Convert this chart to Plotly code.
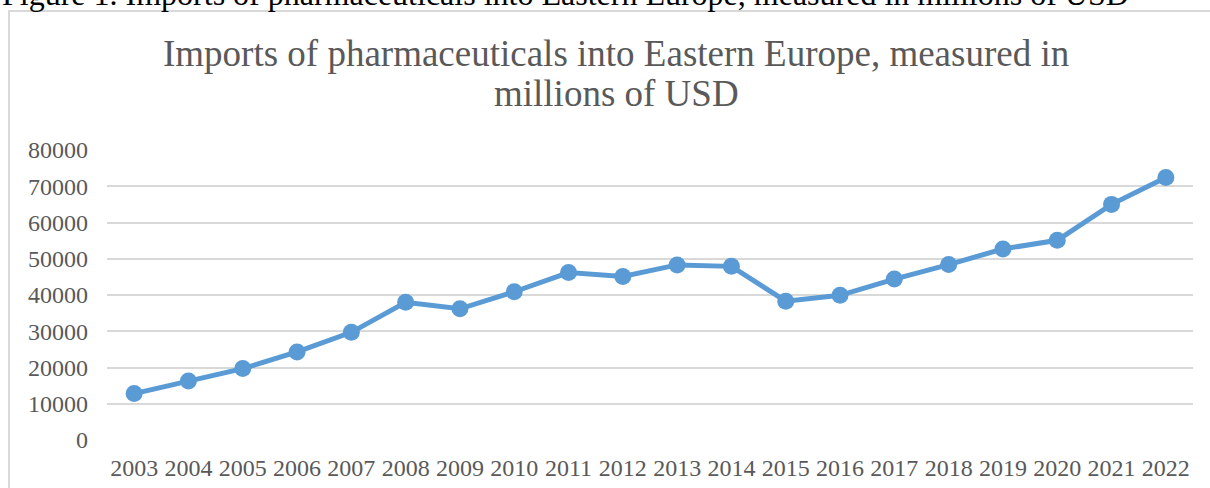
import plotly.graph_objects as go

# Annual pharmaceutical imports into Eastern Europe (millions of USD)
years = ["2003", "2004", "2005", "2006", "2007", "2008", "2009", "2010", "2011", "2012",
         "2013", "2014", "2015", "2016", "2017", "2018", "2019", "2020", "2021", "2022"]
imports_musd = [12800, 16300, 19700, 24300, 29700, 38000, 36200, 40900, 46200, 45100,
                48300, 47900, 38300, 39900, 44400, 48400, 52700, 55100, 65000, 72400]
y_ticks = [0, 10000, 20000, 30000, 40000, 50000, 60000, 70000, 80000]

caption = "Figure 1. Imports of pharmaceuticals into Eastern Europe, measured in millions of USD"
title_line1 = "Imports of pharmaceuticals into Eastern Europe, measured in"
title_line2 = "millions of USD"

SERIF = "Liberation Serif, Times New Roman, serif"
GREY_TEXT = "#595959"
GRID = "#d9d9d9"
BLUE = "#5b9bd5"

fig = go.Figure()
fig.add_trace(go.Scatter(
    x=years, y=imports_musd, mode="lines+markers",
    line=dict(color=BLUE, width=5),
    marker=dict(color=BLUE, size=17),
    hoverinfo="x+y", showlegend=False,
))

fig.update_layout(
    width=1210, height=488,
    margin=dict(l=107, r=17, t=150, b=48, autoexpand=False),
    paper_bgcolor="white", plot_bgcolor="white",
    font=dict(family=SERIF, color=GREY_TEXT),
    xaxis=dict(
        type="category", range=[-0.5, 19.5], automargin=False,
        showgrid=False, zeroline=False, showline=False,
        ticks="", tickfont=dict(size=24, family=SERIF, color=GREY_TEXT),
        ticklabelstandoff=11, fixedrange=True,
    ),
    yaxis=dict(
        range=[0, 80000], tickvals=y_ticks, ticktext=[str(v) for v in y_ticks],
        automargin=False,
        showgrid=True, gridcolor=GRID, gridwidth=1.5,
        zeroline=False, showline=False, ticks="",
        tickfont=dict(size=24, family=SERIF, color=GREY_TEXT),
        ticklabelstandoff=18, fixedrange=True,
    ),
    shapes=[
        # chart frame
        dict(type="rect", xref="paper", yref="paper",
             x0=-0.0902, x1=1.2, y0=-0.5, y1=1.4793,
             line=dict(color=GRID, width=2), fillcolor="rgba(0,0,0,0)", layer="below"),
    ],
    annotations=[
        dict(text=caption, xref="paper", yref="paper", x=-0.0985, y=1.538,
             xanchor="left", yanchor="middle", showarrow=False,
             font=dict(family=SERIF, size=32, color="black")),
        dict(text=title_line1, xref="paper", yref="paper", x=0.4687, y=1.334,
             xanchor="center", yanchor="middle", showarrow=False,
             font=dict(family=SERIF, size=37, color=GREY_TEXT)),
        dict(text=title_line2, xref="paper", yref="paper", x=0.4687, y=1.196,
             xanchor="center", yanchor="middle", showarrow=False,
             font=dict(family=SERIF, size=37, color=GREY_TEXT)),
    ],
)

fig.write_html("out.html")
